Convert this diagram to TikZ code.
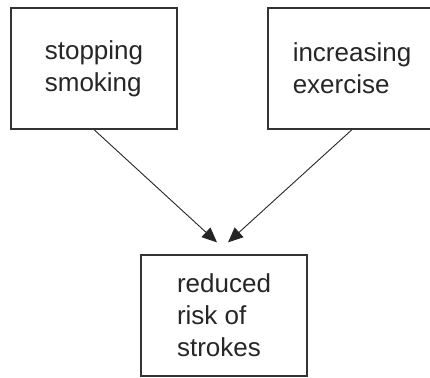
\documentclass[tikz,border=0pt]{standalone}
\usepackage{fontspec}
\setmainfont{Liberation Sans}
\usetikzlibrary{arrows.meta,positioning}
\begin{document}
\begin{tikzpicture}[x=1pt, y=-1pt,
    factor/.style={draw=black!80, line width=1.2pt, minimum width=166pt, minimum height=121pt,
        align=left, text=black!85, font=\fontsize{26pt}{32pt}\selectfont},
    link/.style={draw=black!85, line width=0.9pt, -{Triangle[length=15pt,width=13pt]}}]
    \useasboundingbox (0,0) rectangle (430,377);

    % Causes
    \node[factor] (smoking) at (94,68.5) {stopping\\smoking};
    \node[factor, minimum width=168pt] (exercise) at (352,68.5) {increasing\\exercise};

    % Outcome
    \node[factor] (strokes) at (224,315.5) {reduced\\risk of\\strokes};
    \coordinate[above left=12pt and 7pt of strokes.north] (tipL);
    \coordinate[above right=12pt and 4pt of strokes.north] (tipR);

    % Links
    \draw[link] (smoking.south) -- (tipL);
    \draw[link] (exercise.south) -- (tipR);

\end{tikzpicture}
\end{document}
